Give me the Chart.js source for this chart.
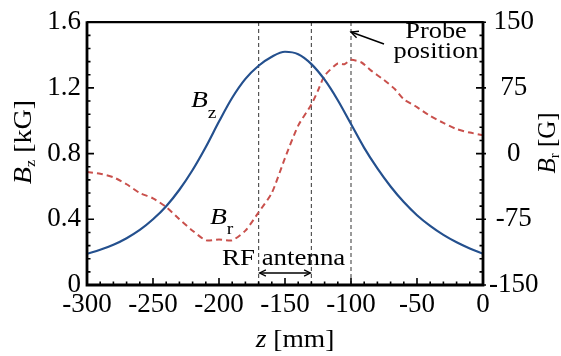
<!DOCTYPE html>
<html>
<head>
<meta charset="utf-8">
<script src="https://cdn.jsdelivr.net/npm/chart.js@4.4.1/dist/chart.umd.min.js"></script>
<style>
  html, body { margin: 0; padding: 0; background: #fff; }
  #wrap { width: 561px; height: 356px; }
</style>
</head>
<body>
<div id="wrap"><canvas id="chartCanvas" width="561" height="356"></canvas></div>
<script>
// Axial field Bz along z (every 10 mm)
const zBz = [-300, -290, -280, -270, -260, -250, -240, -230, -220, -210, -200,
  -190, -180, -170, -160, -150, -140, -130, -120, -110, -100,
  -90, -80, -70, -60, -50, -40, -30, -20, -10, 0];
const bzValues = [0.19, 0.215, 0.245, 0.285, 0.335, 0.40, 0.48, 0.58, 0.70, 0.84, 0.995,
  1.14, 1.255, 1.335, 1.39, 1.42, 1.405, 1.345, 1.25, 1.125, 0.98,
  0.835, 0.71, 0.60, 0.505, 0.425, 0.36, 0.305, 0.26, 0.222, 0.19];

// Radial field Br (measured points)
const zBr = [-300, -290, -280, -270, -260, -250, -240, -230, -220, -210, -200,
  -190, -180, -170, -160, -150, -140, -130, -125, -120, -110, -105, -100,
  -92, -85, -75, -67, -60, -50, -40, -30, -20, -10, 0];
const brValues = [-21, -23, -27, -35, -45, -51, -61, -75, -88, -99, -98,
  -99, -88, -67, -45, -5, 32, 56, 72, 89, 103, 102, 107,
  104, 95, 84, 74, 62, 53, 43, 35, 28, 24, 21];

// RF antenna edges and probe position [mm]
const antennaZ = [-170, -130];
const probeZ = -100;

// tick labels
const zTicks = [-300, -250, -200, -150, -100, -50, 0];
const bzTicks = [0, 0.4, 0.8, 1.2, 1.6];
const brTicks = [-150, -75, 0, 75, 150];

const SERIF = '"Liberation Serif", "Times New Roman", serif';
const bzColor = '#24508e';
const brColor = '#c9504c';

function toPoints(xs, ys) {
  return xs.map((x, i) => ({ x: x, y: ys[i] }));
}

function verticalLine(z) {
  return {
    data: [{ x: z, y: 0 }, { x: z, y: 1.6 }],
    yAxisID: 'y',
    borderColor: '#555',
    borderWidth: 1.2,
    borderDash: [4, 3],
    pointRadius: 0,
    order: 5,
  };
}

// draws e.g. B with a subscript, then the rest of the text
function richText(ctx, parts, x, y, opts) {
  opts = opts || {};
  ctx.save();
  ctx.translate(x, y);
  if (opts.angle) ctx.rotate(opts.angle);
  if (opts.sx) ctx.scale(opts.sx, 1);
  ctx.fillStyle = '#000';
  ctx.textBaseline = 'alphabetic';
  ctx.textAlign = 'left';
  let total = 0;
  parts.forEach((p) => {
    ctx.font = (p.italic ? 'italic ' : '') + p.size + 'px ' + SERIF;
    p.w = ctx.measureText(p.t).width;
    total += p.w;
  });
  let cx = opts.align === 'center' ? -total / 2 : 0;
  parts.forEach((p) => {
    ctx.font = (p.italic ? 'italic ' : '') + p.size + 'px ' + SERIF;
    ctx.fillText(p.t, cx, p.dy || 0);
    cx += p.w;
  });
  ctx.restore();
}

function arrowHead(ctx, x, y, angle, len) {
  ctx.beginPath();
  ctx.moveTo(x + len * Math.cos(angle + 0.45), y + len * Math.sin(angle + 0.45));
  ctx.lineTo(x, y);
  ctx.lineTo(x + len * Math.cos(angle - 0.45), y + len * Math.sin(angle - 0.45));
  ctx.stroke();
}

// frame, inward ticks, titles and notes
const framePlugin = {
  id: 'frame',
  afterDraw(chart) {
    const ctx = chart.ctx;
    const a = chart.chartArea;
    const xs = chart.scales.x, ys = chart.scales.y, ys1 = chart.scales.y1;
    ctx.save();
    ctx.strokeStyle = '#000';
    ctx.lineCap = 'butt';

    // ticks
    ctx.lineWidth = 1.6;
    ctx.beginPath();
    for (let v = -300; v <= 0; v += 10) {
      const px = xs.getPixelForValue(v);
      const len = v % 50 === 0 ? 7 : 3.5;
      ctx.moveTo(px, a.bottom);
      ctx.lineTo(px, a.bottom - len);
    }
    for (let i = 0; i <= 20; i++) {
      const py = ys.getPixelForValue(i * 0.08);
      const len = i % 5 === 0 ? 7 : 3.5;
      ctx.moveTo(a.left, py);
      ctx.lineTo(a.left + len, py);
    }
    for (let i = 0; i <= 20; i++) {
      const py = ys1.getPixelForValue(-150 + i * 15);
      const len = i % 5 === 0 ? 7 : 3.5;
      ctx.moveTo(a.right + (i % 5 === 0 ? 3 : 0), py);
      ctx.lineTo(a.right - len, py);
    }
    ctx.stroke();

    // frame
    ctx.lineWidth = 2.2;
    ctx.beginPath();
    ctx.moveTo(a.left, a.top);
    ctx.lineTo(a.right, a.top);
    ctx.stroke();
    ctx.lineWidth = 2.8;
    ctx.beginPath();
    ctx.moveTo(a.left, a.top - 1);
    ctx.lineTo(a.left, a.bottom);
    ctx.lineTo(a.right, a.bottom);
    ctx.lineTo(a.right, a.top - 1);
    ctx.stroke();

    // axis titles
    richText(ctx, [
      { t: 'B', italic: true, size: 26 },
      { t: 'z', size: 15, dy: 4 },
      { t: ' [kG]', size: 26 },
    ], 31, 142, { angle: -Math.PI / 2, align: 'center', sx: 1.08 });
    richText(ctx, [
      { t: 'B', italic: true, size: 25 },
      { t: 'r', size: 15, dy: 4 },
      { t: ' [G]', size: 25 },
    ], 555, 143, { angle: -Math.PI / 2, align: 'center', sx: 1.0 });
    richText(ctx, [
      { t: 'z', italic: true, size: 25 },
      { t: ' [mm]', size: 25 },
    ], 295, 347, { align: 'center', sx: 1.1 });

    // curve labels
    richText(ctx, [
      { t: 'B', italic: true, size: 24 },
      { t: 'z', size: 17, dy: 11 },
    ], 191, 107, { sx: 1.15 });
    richText(ctx, [
      { t: 'B', italic: true, size: 24 },
      { t: 'r', size: 17, dy: 10 },
    ], 210, 224, { sx: 1.15 });

    // RF antenna
    richText(ctx, [{ t: 'RF antenna', size: 23 }], 222, 265, { sx: 1.17 });
    const x1 = xs.getPixelForValue(antennaZ[0]);
    const x2 = xs.getPixelForValue(antennaZ[1]);
    ctx.lineWidth = 1.3;
    ctx.beginPath();
    ctx.moveTo(x1 + 1, 273);
    ctx.lineTo(x2 - 1, 273);
    ctx.stroke();
    arrowHead(ctx, x1 + 1, 273, 0, 7);
    arrowHead(ctx, x2 - 1, 273, Math.PI, 7);

    // probe position
    richText(ctx, [{ t: 'Probe', size: 24 }], 436, 38, { align: 'center', sx: 1.1 });
    richText(ctx, [{ t: 'position', size: 24 }], 436, 58, { align: 'center', sx: 1.1 });
    const px = xs.getPixelForValue(probeZ);
    ctx.lineWidth = 1.4;
    ctx.beginPath();
    ctx.moveTo(384, 44);
    ctx.lineTo(px, 32);
    ctx.stroke();
    arrowHead(ctx, px, 32, Math.atan2(44 - 32, 384 - px), 8);

    ctx.restore();
  },
};

const ctx = document.getElementById('chartCanvas').getContext('2d');
new Chart(ctx, {
  type: 'line',
  data: {
    datasets: [
      {
        label: 'Bz',
        data: toPoints(zBz, bzValues),
        yAxisID: 'y',
        borderColor: bzColor,
        borderWidth: 2.2,
        pointRadius: 0,
        cubicInterpolationMode: 'monotone',
        order: 1,
      },
      {
        label: 'Br',
        data: toPoints(zBr, brValues),
        yAxisID: 'y1',
        borderColor: brColor,
        borderWidth: 2,
        borderDash: [6, 4],
        pointRadius: 0,
        tension: 0.2,
        order: 2,
      },
      verticalLine(antennaZ[0]),
      verticalLine(antennaZ[1]),
      verticalLine(probeZ),
    ],
  },
  options: {
    responsive: false,
    devicePixelRatio: 1,
    animation: false,
    layout: { padding: { top: 13, left: 0, right: 16, bottom: 0 } },
    plugins: {
      legend: { display: false },
      tooltip: { enabled: false },
    },
    scales: {
      x: {
        type: 'linear',
        min: -300,
        max: 0,
        afterBuildTicks: (s) => { s.ticks = zTicks.map((v) => ({ value: v })); },
        afterFit: (s) => { s.height = 71; },
        grid: { display: false, drawTicks: false },
        border: { display: false },
        ticks: {
          autoSkip: false,
          maxRotation: 0,
          padding: 4,
          color: '#000',
          font: { family: SERIF, size: 27 },
          callback: (v) => String(v),
        },
      },
      y: {
        position: 'left',
        min: 0,
        max: 1.6,
        afterBuildTicks: (s) => { s.ticks = bzTicks.map((v) => ({ value: v })); },
        afterFit: (s) => { s.width = 87; },
        grid: { display: false, drawTicks: false },
        border: { display: false },
        ticks: {
          padding: 6,
          color: '#000',
          font: { family: SERIF, size: 27 },
          callback: (v) => (v === 0 ? '0' : v.toFixed(1)),
        },
      },
      y1: {
        position: 'right',
        min: -150,
        max: 150,
        afterBuildTicks: (s) => { s.ticks = brTicks.map((v) => ({ value: v })); },
        afterFit: (s) => { s.width = 62; },
        grid: { display: false, drawTicks: false },
        border: { display: false },
        ticks: {
          padding: 6,
          crossAlign: 'center',
          color: '#000',
          font: { family: SERIF, size: 27 },
          callback: (v) => String(v),
        },
      },
    },
  },
  plugins: [framePlugin],
});
</script>
</body>
</html>
